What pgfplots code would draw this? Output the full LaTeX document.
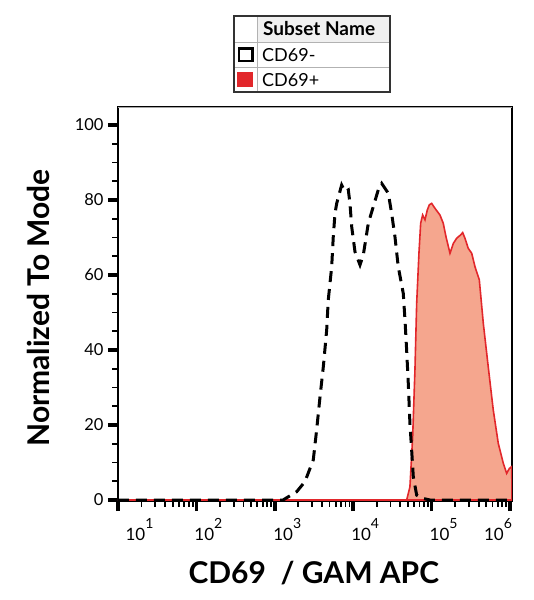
\documentclass[border=0pt]{standalone}
\usepackage{pgfplots}
\pgfplotsset{compat=1.18}
\usepackage{fontspec}
\setmainfont{Lato}
\definecolor{cdred}{HTML}{E2272B}
\definecolor{cdfill}{HTML}{F5A68E}
\newcommand{\dec}[1]{10\raisebox{11.5pt}{\fontsize{14}{14}\selectfont #1}}
\begin{document}
\begin{tikzpicture}[x=1pt,y=1pt]
\path[use as bounding box] (-118,-99) rectangle (416,501);
\begin{axis}[
  at={(0,0)}, anchor=south west,
  scale only axis, width=394pt, height=394pt,
  xmin=1, xmax=6.026, ymin=-0.267, ymax=104.8,
  axis line style={black, line width=2pt},
  tick pos=left, tick align=outside,
  xtick={1,2,3,4,5,6},
  xticklabels={\hspace*{43pt}\dec{1},\hspace*{24pt}\dec{2},\hspace*{25pt}\dec{3},
               \hspace*{24pt}\dec{4},\hspace*{24pt}\dec{5},\dec{6}\hspace*{24pt}},
  xticklabel style={font=\fontsize{17}{17}\selectfont, anchor=north, yshift=-4pt},
  minor xtick={1.301,1.477,1.602,1.699,1.778,1.845,1.903,1.954,
               2.301,2.477,2.602,2.699,2.778,2.845,2.903,2.954,
               3.301,3.477,3.602,3.699,3.778,3.845,3.903,3.954,
               4.301,4.477,4.602,4.699,4.778,4.845,4.903,4.954,
               5.301,5.477,5.602,5.699,5.778,5.845,5.903,5.954},
  ytick={0,20,40,60,80,100}, minor y tick num=3,
  yticklabel style={font=\fontsize{16.5}{16.5}\selectfont, xshift=-1pt},
  /pgf/number format/assume math mode=true,
  major tick length=10pt, minor tick length=5.5pt,
  major tick style={line width=3.5pt, black},
  minor tick style={line width=1.8pt, black},
  xlabel={\textbf{CD69\ \ / GAM APC}},
  xlabel style={font=\fontsize{30}{30}\selectfont, at={(axis description cs:0.497,-0.183)}, anchor=center},
  ylabel={\textbf{Normalized To Mode}},
  ylabel style={font=\fontsize{30}{30}\selectfont, at={(axis description cs:-0.203,0.49)}, anchor=center},
]
% CD69+ (filled)
\addplot[draw=cdred, line width=1.6pt, fill=cdfill] coordinates {
(1,0) (4.682,0) (4.724,3.5) (4.759,16.9) (4.788,34.7) (4.810,52.4) (4.839,65.8)
(4.861,73.8) (4.886,76.0) (4.916,74.7) (4.945,77.3) (4.971,78.7) (5.001,79.1)
(5.043,77.8) (5.107,76.0) (5.149,73.8) (5.184,70.2) (5.235,65.8) (5.277,68.4)
(5.320,69.8) (5.371,70.7) (5.397,71.3) (5.426,69.8) (5.468,67.1) (5.512,65.8)
(5.554,62.2) (5.609,58.7) (5.660,47.1) (5.723,35.5) (5.787,24.0) (5.851,15.1)
(5.915,9.8) (5.958,7.1) (5.992,8.4) (6.022,8.9) (6.026,0)
} \closedcycle;
% CD69- (dashed)
\addplot[black, line width=3pt, dash pattern=on 11pt off 7pt] coordinates {
(1,0) (3.105,0) (3.279,2.2) (3.385,4.9) (3.491,10.7) (3.534,18.7) (3.577,27.5)
(3.619,35.5) (3.662,45.3) (3.682,53.3) (3.726,62.2) (3.746,70.2) (3.768,76.4)
(3.790,79.1) (3.853,84.0) (3.895,82.2) (3.938,82.7) (3.959,79.1) (3.981,72.9)
(4.023,66.2) (4.087,62.7) (4.129,65.3) (4.193,73.8) (4.256,78.2) (4.320,82.7)
(4.364,84.4) (4.448,81.8) (4.491,76.4) (4.533,70.2) (4.575,62.2) (4.639,55.1)
(4.661,48.0) (4.682,40.0) (4.703,31.1) (4.724,20.4) (4.746,13.3) (4.767,6.2)
(4.810,1.3) (4.874,0.5) (4.980,0) (6.026,0)
};
\draw[gray!70, line width=1.8pt] (rel axis cs:0,1) -- (rel axis cs:1,1);
\draw[black, line width=1pt] (rel axis cs:1,0) -- (rel axis cs:1,1);
\end{axis}
% legend table
\fill[gray!12] (139,459) rectangle (272,485);
\draw[gray!60, line width=0.9pt] (116,459) -- (272,459) (116,434) -- (272,434) (139,409) -- (139,485);
\draw[black!80, line width=2pt] (116,409) rectangle (272,485);
\draw[black, line width=2.6pt] (120.8,439.8) rectangle (134.2,452.2);
\fill[cdred] (119,414) rectangle (135,429);
\node[anchor=west, inner sep=0pt, font=\fontsize{19}{19}\selectfont\bfseries] at (145,472) {Subset Name};
\node[anchor=west, inner sep=0pt, font=\fontsize{18}{18}\selectfont] at (144,446) {CD69-};
\node[anchor=west, inner sep=0pt, font=\fontsize{18}{18}\selectfont] at (144,421) {CD69+};
\end{tikzpicture}
\end{document}
